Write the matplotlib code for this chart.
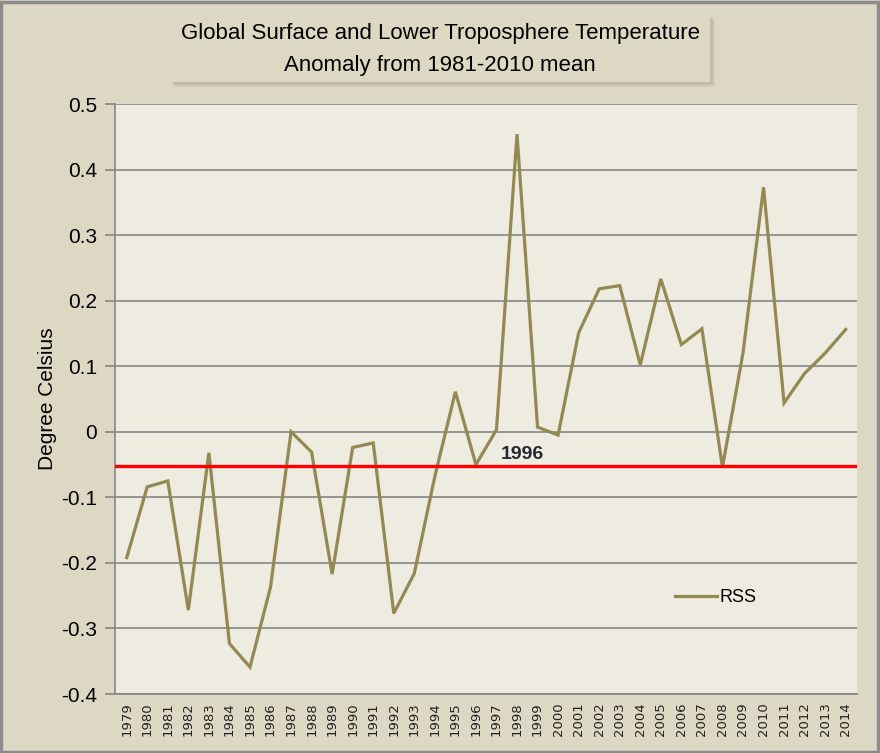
import matplotlib
matplotlib.use("Agg")
import matplotlib.pyplot as plt
import matplotlib.patches as mpatches
import numpy as np

years = [str(y) for y in range(1979, 2015)]
rss = [-0.192, -0.084, -0.075, -0.272, -0.032, -0.323, -0.359, -0.237, 0.000, -0.031,
       -0.217, -0.024, -0.017, -0.277, -0.216, -0.068, 0.061, -0.050, 0.003, 0.454,
       0.007, -0.005, 0.151, 0.218, 0.223, 0.102, 0.233, 0.133, 0.157, -0.054,
       0.120, 0.373, 0.044, 0.089, 0.120, 0.156]
ref_value = -0.052
ref_label = "1996"
yticks = [0.5, 0.4, 0.3, 0.2, 0.1, 0.0, -0.1, -0.2, -0.3, -0.4]
ytick_labels = ["0.5", "0.4", "0.3", "0.2", "0.1", "0", "-0.1", "-0.2", "-0.3", "-0.4"]
title_lines = ["Global Surface and Lower Troposphere Temperature", "Anomaly from 1981-2010 mean"]

FONT = ["Liberation Sans", "DejaVu Sans"]
bg = "#DDD8C3"
plot_bg = "#EEEBE0"
line_col = "#938953"
grid_col = "#868686"

fig = plt.figure(figsize=(8.8, 7.53), dpi=100, facecolor=bg)
# figure border
fig.patches.append(mpatches.Rectangle((0.001, 0.001), 0.997, 0.997, transform=fig.transFigure,
                                      fill=False, edgecolor="#8C8C8C", linewidth=2.5))

ax = fig.add_axes([115/880, 1-694/753, (857-115)/880, (694-104)/753])
ax.set_facecolor(plot_bg)
x = np.arange(len(years))
ax.plot(x, rss, color=line_col, linewidth=2.3, label="RSS", zorder=3, solid_joinstyle="miter")
ax.axhline(ref_value, color="#FF0000", linewidth=2.4, zorder=4)
ax.text(19.25, ref_value + 0.004, ref_label, ha="center", va="bottom", fontsize=14,
        fontweight="bold", color="#262B33", family=FONT, zorder=5)

ax.set_xlim(-0.57, len(years) - 1 + 0.55)
ax.set_ylim(-0.4, 0.5)
ax.set_yticks(yticks)
ax.set_yticklabels(ytick_labels, family=FONT, fontsize=15)
ax.set_xticks(x)
ax.set_xticklabels(years, rotation=90, fontsize=9.5, family="DejaVu Sans", color="#222222")
ax.tick_params(axis="x", length=0, pad=6)
ax.tick_params(axis="y", length=7, width=1.2, color=grid_col, pad=6)
ax.grid(axis="y", color=grid_col, linewidth=1.2, zorder=1)
for s in ["top", "right"]:
    ax.spines[s].set_visible(False)
for s in ["left", "bottom"]:
    ax.spines[s].set_color(grid_col)
    ax.spines[s].set_linewidth(1.2)
ax.set_ylabel("Degree Celsius", family=FONT, fontsize=15, labelpad=3)

leg = ax.legend(loc="upper left", bbox_to_anchor=((668-115)/742, 1-(582-104)/590),
                frameon=False, prop={"family": FONT, "size": 13}, handlelength=2.3,
                handletextpad=0.15, borderaxespad=0)

# title box with soft shadow
tx0, ty0, tx1, ty1 = 170/880, 1-82/753, 710/880, 1-15/753
for i, a in enumerate([0.25, 0.25, 0.3, 0.35]):
    off = (5 - i) 
    fig.patches.append(mpatches.Rectangle((tx0 + off/880, ty0 - off/753), tx1 - tx0, ty1 - ty0,
                                          transform=fig.transFigure, facecolor="#B8B39E",
                                          edgecolor="none", alpha=a, zorder=1))
fig.patches.append(mpatches.Rectangle((tx0, ty0), tx1 - tx0, ty1 - ty0,
                                      transform=fig.transFigure, facecolor=bg,
                                      edgecolor="none", zorder=2))
fig.text(440/880, 1-33/753, title_lines[0], ha="center", va="center", fontsize=16,
         family=FONT, zorder=3)
fig.text(440/880, 1-65/753, title_lines[1], ha="center", va="center", fontsize=16,
         family=FONT, zorder=3)

fig.savefig("out.png", dpi=100, facecolor=bg)
